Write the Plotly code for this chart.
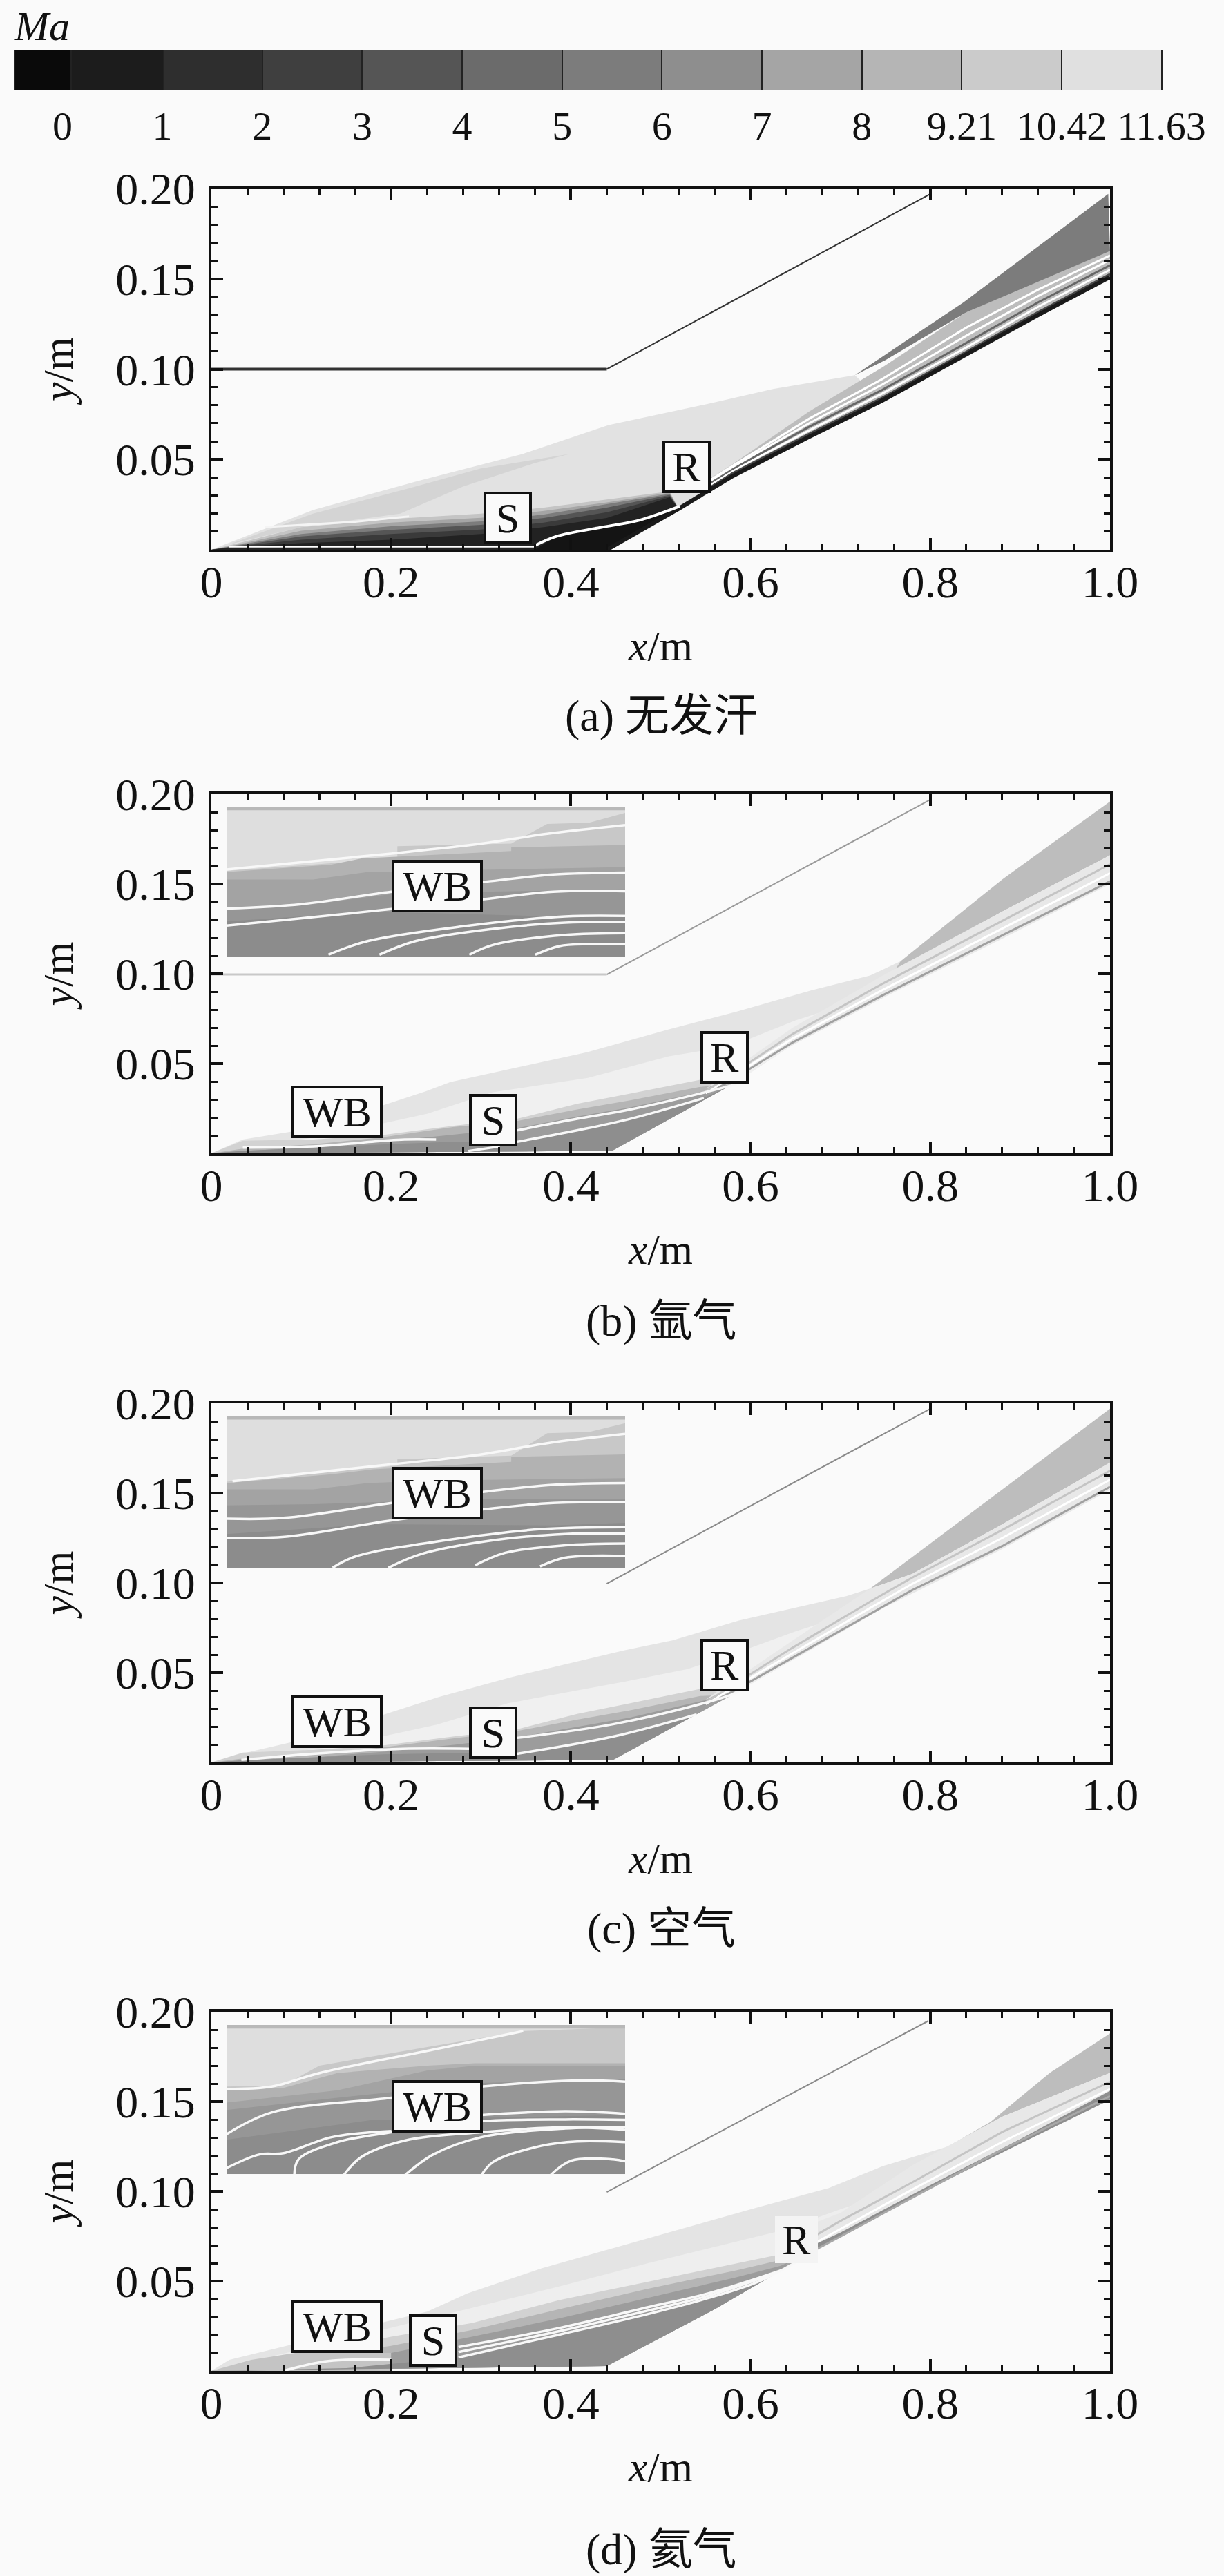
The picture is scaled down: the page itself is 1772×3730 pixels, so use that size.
import plotly.graph_objects as go

W = 1772
H = 3730
BG = "#fafafa"
SERIF = "Liberation Serif"
CJK = "Liberation Serif, Noto Sans CJK SC"

# colour bar
cbar_edges = [-0.487, 0.09, 1.01, 2, 3, 4, 5, 6, 7, 8, 9, 10, 11, 11.48]
cbar_colors = ["#0a0a0a", "#1c1c1c", "#2e2e2e", "#3f3f3f", "#555555", "#6b6b6b", "#7c7c7c",
               "#8e8e8e", "#a5a5a5", "#b5b5b5", "#cbcbcb", "#e0e0e0", "#fafafa"]
cbar_ticks = [0, 1, 2, 3, 4, 5, 6, 7, 8, 9, 10, 11]
cbar_labels = ["0", "1", "2", "3", "4", "5", "6", "7", "8", "9.21", "10.42", "11.63"]

x_ticks = [0, 0.2, 0.4, 0.6, 0.8, 1.0]
x_labels = ["0", "0.2", "0.4", "0.6", "0.8", "1.0"]
y_ticks = [0.05, 0.10, 0.15, 0.20]
y_labels = ["0.05", "0.10", "0.15", "0.20"]

captions = ["(a) 无发汗", "(b) 氩气", "(c) 空气", "(d) 氦气"]
caption_py = [1037, 1912, 2792, 3691]
panel_top = [273, 1150, 2032, 2913]
panel_bottom = [796, 1670, 2552, 3433]

# panel a
a_wall_x = [0.44, 0.52, 0.579, 0.665, 0.7465, 0.84, 0.92, 1.0]
a_wall_y = [0, 0.0227, 0.0405, 0.0625, 0.0826, 0.108, 0.13, 0.151]
a_shock_x = [0, 0.113, 0.229, 0.346, 0.442, 0.552, 0.625, 0.716]
a_shock_y = [0, 0.022, 0.038, 0.053, 0.069, 0.0807, 0.089, 0.0967]
a_strip_x = [0.02, 0.113, 0.22, 0.3, 0.398, 0.36, 0.28, 0.21, 0.1, 0.02]
a_strip_y = [0.003, 0.02, 0.034, 0.045, 0.053, 0.048, 0.035, 0.02, 0.0125, 0.003]
a_grad_x = [0.03, 0.10, 0.20, 0.30, 0.37, 0.44, 0.51]
a_grad_1 = [0.0036, 0.0125, 0.017, 0.020, 0.0233, 0.0278, 0.0323]
a_grad_2 = [0.0030, 0.0105, 0.015, 0.0177, 0.0215, 0.0262, 0.0316]
a_grad_3 = [0.0026, 0.0087, 0.013, 0.0157, 0.0195, 0.0252, 0.031]
a_grad_4 = [0.0022, 0.0074, 0.011, 0.0138, 0.0176, 0.0233, 0.0304]
a_grad_5 = [0.0020, 0.0055, 0.0087, 0.0112, 0.015, 0.0207, 0.0297]
a_grad_6 = [0.0017, 0.0036, 0.0055, 0.0087, 0.0125, 0.0176, 0.0291]
a_black_x = [0.36, 0.384, 0.435, 0.476, 0.521, 0.44]
a_black_y = [0.0, 0.0074, 0.0125, 0.0163, 0.024, 0.0]
a_wedge_x = [0.716, 0.837, 0.998, 1.0, 0.84, 0.75, 0.716]
a_wedge_y = [0.0967, 0.137, 0.197, 0.1654, 0.1315, 0.105, 0.0967]
a_stripe_x = [0.55, 0.579, 0.665, 0.7465, 0.84, 0.92, 1.0]
a_stripe_top = [0.038, 0.047, 0.0765, 0.101, 0.1315, 0.149, 0.1654]
a_stripe_lines = [
    [0.0330, 0.0421, 0.0641, 0.0842, 0.1096, 0.1316, 0.1526],
    [0.0345, 0.0435, 0.0660, 0.0865, 0.1120, 0.1345, 0.1550],
    [0.0355, 0.0445, 0.0680, 0.0885, 0.1145, 0.1370, 0.1575],
    [0.0365, 0.0455, 0.0700, 0.0915, 0.1185, 0.1405, 0.1605],
    [0.0370, 0.0462, 0.0725, 0.0945, 0.1230, 0.1440, 0.1630],
]
a_stripe_colors = ["#444444", "#ffffff", "#666666", "#ffffff", "#ffffff"]
a_white_x = [0.36, 0.384, 0.435, 0.476, 0.521]
a_white_y = [0.0023, 0.0074, 0.0125, 0.0163, 0.024]
a_floor_x = [0.02, 0.36]
a_floor_y = [0.0016, 0.0016]
a_thin_x = [0.06, 0.16, 0.22]
a_thin_y = [0.0125, 0.0155, 0.0185]
a_top_wall_x = [0, 0.44, 0.80]
a_top_wall_y = [0.1, 0.1, 0.197]

# panel b
b_wall_x = [0.446, 0.58, 0.647, 0.747, 0.88, 1.0]
b_wall_y = [0.0014, 0.0385, 0.0604, 0.0865, 0.1195, 0.15]
b_shock_x = [0, 0.035, 0.113, 0.239, 0.266, 0.313, 0.419, 0.509, 0.56, 0.584, 0.667, 0.733, 0.767]
b_shock_y = [0, 0.0077, 0.014, 0.0346, 0.0397, 0.0449, 0.0564, 0.069, 0.0756, 0.0788, 0.0907, 0.099, 0.107]
b_inner_x = [0.13, 0.24, 0.313, 0.419, 0.509, 0.58, 0.65, 0.70]
b_inner_y = [0.0100, 0.022, 0.034, 0.042, 0.054, 0.060, 0.074, 0.082]
b_grad_x = [0.035, 0.113, 0.192, 0.27, 0.34, 0.407, 0.466, 0.544]
b_grad_1 = [0.007, 0.0077, 0.0103, 0.0154, 0.0192, 0.0276, 0.0333, 0.041]
b_grad_2 = [0.0026, 0.005, 0.009, 0.0147, 0.018, 0.0244, 0.0295, 0.037]
b_grad_3 = [0.0013, 0.0032, 0.0064, 0.0103, 0.014, 0.0205, 0.0256, 0.034]
b_low_x = [0.035, 0.113, 0.192, 0.27, 0.34, 0.407, 0.466, 0.548]
b_low_y = [0.0013, 0.0032, 0.005, 0.0064, 0.0064, 0.0128, 0.0192, 0.0308]
b_wedge_x = [0.767, 0.88, 1.0, 1.0, 0.88, 0.76]
b_wedge_y = [0.107, 0.1525, 0.196, 0.166, 0.1346, 0.1016]
b_stripe_x = [0.55, 0.647, 0.747, 0.88, 1.0]
b_stripe_top = [0.036, 0.0700, 0.0990, 0.1346, 0.166]
b_stripe_lines = [
    [0.0320, 0.0618, 0.0880, 0.1215, 0.1515],
    [0.0335, 0.0640, 0.0910, 0.1250, 0.1560],
    [0.0345, 0.0665, 0.0945, 0.1295, 0.1610],
]
b_flow_1_x = [0.34, 0.407, 0.466, 0.544, 0.584]
b_flow_1_y = [0.0128, 0.0192, 0.0244, 0.0333, 0.0385]
b_flow_2_x = [0.34, 0.407, 0.466, 0.548]
b_flow_2_y = [0.0064, 0.0128, 0.0192, 0.0308]
b_flow_3_x = [0.035, 0.113, 0.192, 0.215, 0.25]
b_flow_3_y = [0.0032, 0.0038, 0.007, 0.0077, 0.0077]
b_flow_4_x = [0.286, 0.321]
b_flow_4_y = [0.0013, 0.0038]
b_top_wall_x = [0, 0.44, 0.80]
b_top_wall_y = [0.0996, 0.0996, 0.197]

# panel c
c_wall_x = [0.447, 0.58, 0.647, 0.747, 0.88, 1.0]
c_wall_y = [0.0014, 0.0378, 0.057, 0.0859, 0.1188, 0.1518]
c_shock_x = [0, 0.0334, 0.113, 0.253, 0.333, 0.46, 0.513, 0.587, 0.707, 0.733]
c_shock_y = [0, 0.0048, 0.014, 0.0364, 0.0474, 0.0625, 0.068, 0.079, 0.0927, 0.0968]
c_inner_x = [0.14, 0.25, 0.33, 0.46, 0.53, 0.59, 0.65, 0.70]
c_inner_y = [0.009, 0.021, 0.033, 0.045, 0.052, 0.062, 0.073, 0.081]
c_grad_x = [0.035, 0.113, 0.192, 0.27, 0.34, 0.407, 0.466, 0.544]
c_grad_1 = [0.0055, 0.0070, 0.0095, 0.0145, 0.0185, 0.0270, 0.0330, 0.041]
c_grad_2 = [0.0022, 0.0045, 0.0085, 0.0135, 0.0175, 0.0238, 0.0290, 0.037]
c_grad_3 = [0.0012, 0.0028, 0.0060, 0.0098, 0.0140, 0.0200, 0.0250, 0.034]
c_low_x = [0.035, 0.113, 0.192, 0.27, 0.34, 0.447, 0.54]
c_low_y = [0.0012, 0.0028, 0.0045, 0.0052, 0.0048, 0.0144, 0.0268]
c_wedge_x = [0.733, 0.88, 1.0, 1.0, 0.88, 0.78, 0.733]
c_wedge_y = [0.0968, 0.1518, 0.197, 0.167, 0.1326, 0.105, 0.0968]
c_stripe_x = [0.55, 0.647, 0.733, 0.78, 0.88, 1.0]
c_stripe_top = [0.035, 0.0680, 0.0968, 0.105, 0.1326, 0.167]
c_stripe_lines = [
    [0.0310, 0.0585, 0.0830, 0.0960, 0.1205, 0.1535],
    [0.0325, 0.0610, 0.0860, 0.0995, 0.1250, 0.1575],
    [0.0335, 0.0640, 0.0895, 0.1030, 0.1295, 0.1625],
]
c_flow_1_x = [0.34, 0.447, 0.553, 0.587]
c_flow_1_y = [0.0137, 0.0213, 0.0337, 0.0392]
c_flow_2_x = [0.34, 0.447, 0.54]
c_flow_2_y = [0.0048, 0.0144, 0.0268]
c_flow_3_x = [0.0334, 0.113, 0.213, 0.287]
c_flow_3_y = [0.0014, 0.0048, 0.0076, 0.0076]
c_top_wall_x = [0.44, 0.80]
c_top_wall_y = [0.0996, 0.197]

# panel d
d_wall_x = [0.44, 0.56, 0.673, 0.8, 0.9, 1.0]
d_wall_y = [0.0027, 0.0343, 0.0673, 0.1016, 0.1265, 0.151]
d_shock_x = [0, 0.02, 0.24, 0.285, 0.368, 0.486, 0.603, 0.687, 0.747, 0.82]
d_shock_y = [0, 0.0062, 0.033, 0.0432, 0.0572, 0.0738, 0.0904, 0.1018, 0.114, 0.125]
d_inner_x = [0.2, 0.29, 0.387, 0.486, 0.584, 0.633, 0.70, 0.76]
d_inner_y = [0.024, 0.035, 0.047, 0.060, 0.072, 0.078, 0.090, 0.100]
d_grad_x = [0.2, 0.29, 0.387, 0.486, 0.584, 0.633]
d_grad_1 = [0.0190, 0.0266, 0.0394, 0.0496, 0.0598, 0.0649]
d_grad_2 = [0.0139, 0.0228, 0.0343, 0.0458, 0.056, 0.0617]
d_grad_3 = [0.0100, 0.019, 0.0292, 0.0407, 0.0521, 0.0585]
d_head_x = [0.0444, 0.0934, 0.2]
d_head_y = [0.0062, 0.010, 0.010]
d_low_x = [0.0, 0.15, 0.275, 0.388, 0.486, 0.554, 0.608, 0.652]
d_low_y = [0.0, 0.0015, 0.0075, 0.0203, 0.0317, 0.0407, 0.0496, 0.061]
d_wedge_x = [0.82, 0.867, 0.933, 1.0, 1.0, 0.88, 0.82]
d_wedge_y = [0.125, 0.1387, 0.166, 0.188, 0.166, 0.1415, 0.125]
d_stripe_x = [0.64, 0.70, 0.78, 0.88, 1.0]
d_stripe_top = [0.0765, 0.0880, 0.1145, 0.1415, 0.166]
d_stripe_lines = [
    [0.0590, 0.0748, 0.0965, 0.1232, 0.1530],
    [0.0625, 0.0790, 0.1010, 0.1275, 0.1570],
    [0.0660, 0.0835, 0.1050, 0.1330, 0.1610],
]
d_dark_x = [0.652, 0.70, 0.80, 0.90, 1.0, 1.0, 0.90, 0.80, 0.673]
d_dark_y = [0.066, 0.077, 0.1035, 0.1290, 0.156, 0.151, 0.1265, 0.1016, 0.0673]
d_flow_1_x = [0.275, 0.388, 0.486, 0.554, 0.608, 0.652]
d_flow_1_y = [0.0075, 0.0203, 0.0317, 0.0407, 0.0496, 0.061]
d_flow_2_x = [0.275, 0.388, 0.486, 0.554, 0.634]
d_flow_2_y = [0.0133, 0.0240, 0.0355, 0.0433, 0.0560]
d_flow_3_x = [0.275, 0.388, 0.486, 0.554, 0.620]
d_flow_3_y = [0.0105, 0.0222, 0.0336, 0.0420, 0.0530]
d_flow_4_x = [0.08, 0.13, 0.2]
d_flow_4_y = [0.0, 0.0055, 0.0062]
d_top_wall_x = [0.44, 0.798]
d_top_wall_y = [0.0996, 0.195]

# insets: positions are read off the picture, the zoomed view has no axis of its own
inset_left = 328
inset_right = 905
inset_top = [1168, 2050, 2932]
inset_bottom = [1386, 2270, 3150]

i_band_colors = ["#c8c8c8", "#b2b2b2", "#a3a3a3", "#969696", "#8c8c8c"]

ib_band_1_x = [55, 340, 340, 530, 590, 660, 720]
ib_band_1_y = [395, 345, 295, 285, 205, 200, 160]
ib_band_2_x = [55, 230, 280, 530, 530, 720]
ib_band_2_y = [400, 370, 345, 315, 300, 290]
ib_band_3_x = [55, 200, 290, 400, 720]
ib_band_3_y = [430, 430, 400, 395, 380]
ib_band_4_x = [55, 200, 330, 480, 720]
ib_band_4_y = [550, 530, 490, 480, 470]
ib_band_5_x = [55, 300, 600, 720]
ib_band_5_y = [600, 560, 580, 570]
ib_lines_x = [[55, 330, 480, 590, 720], [55, 180, 330, 485, 600, 720], [55, 170, 330, 485, 600, 720],
              [225, 290, 450, 620, 720], [310, 370, 500, 620, 720], [460, 500, 620, 720], [570, 610, 660, 720]]
ib_lines_y = [[390, 325, 285, 245, 210], [548, 530, 480, 440, 410, 402], [617, 590, 550, 510, 480, 478],
              [735, 680, 620, 580, 578], [735, 680, 630, 605, 603], [735, 695, 655, 648], [735, 700, 692, 692]]

ic_band_1_x = [55, 340, 340, 530, 590, 660, 720]
ic_band_1_y = [400, 335, 310, 295, 205, 200, 165]
ic_band_2_x = [55, 230, 300, 530, 530, 720]
ic_band_2_y = [405, 370, 350, 320, 300, 290]
ic_band_3_x = [55, 200, 290, 400, 720]
ic_band_3_y = [430, 430, 405, 395, 385]
ic_band_4_x = [55, 200, 330, 480, 720]
ic_band_4_y = [495, 490, 480, 470, 470]
ic_band_5_x = [55, 300, 600, 720]
ic_band_5_y = [610, 570, 575, 565]
ic_lines_x = [[65, 330, 480, 590, 720], [55, 150, 330, 485, 600, 720], [55, 155, 330, 485, 600, 720],
              [232, 270, 420, 580, 720], [325, 380, 500, 620, 720], [470, 520, 620, 720], [578, 620, 720]]
ic_lines_y = [[398, 330, 290, 245, 208], [548, 545, 485, 440, 412, 405], [625, 620, 555, 510, 485, 482],
              [745, 700, 635, 590, 582], [745, 690, 635, 610, 608], [735, 685, 655, 648], [740, 705, 698]]

id_band_1_x = [55, 150, 210, 400, 550, 720]
id_band_1_y = [385, 380, 300, 220, 160, 145]
id_band_2_x = [55, 150, 240, 390, 470, 720]
id_band_2_y = [400, 390, 330, 300, 290, 290]
id_band_3_x = [55, 240, 390, 470, 720]
id_band_3_y = [450, 400, 320, 300, 300]
id_band_4_x = [55, 240, 480, 720]
id_band_4_y = [480, 430, 370, 355]
id_band_5_x = [55, 300, 720]
id_band_5_y = [600, 520, 500]
id_lines_x = [[55, 130, 210, 400, 550], [55, 130, 330, 480, 640, 720], [55, 110, 150, 230, 330],
              [168, 175, 240, 330, 480, 620, 720], [250, 280, 350, 480, 620, 720], [352, 400, 480, 620, 720],
              [480, 500, 580, 640, 720], [595, 630, 700, 720], [480, 620, 720], [55, 720]]
id_lines_y = [[395, 385, 330, 235, 160], [578, 490, 430, 385, 360, 365], [715, 660, 655, 590, 565],
              [745, 680, 610, 570, 525, 518, 520], [745, 670, 605, 570, 550, 560], [745, 660, 590, 555, 550],
              [745, 690, 625, 607, 610], [745, 685, 680, 688], [500, 485, 495], [744, 744]]

# box labels: x, y in metres
a_box_x = [0.3295, 0.529]
a_box_y = [0.0176, 0.0459]
a_box_text = ["S", "R"]
b_box_x = [0.140, 0.3133, 0.571, 0.2514]
b_box_y = [0.0229, 0.0184, 0.0534, 0.149]
c_box_x = [0.140, 0.3133, 0.571, 0.2514]
c_box_y = [0.0228, 0.0166, 0.0543, 0.150]
d_box_x = [0.140, 0.2467, 0.2514]
d_box_y = [0.0247, 0.0169, 0.1473]
wide_text = ["WB", "S", "R", "WB"]
d_box_text = ["WB", "S", "WB"]
d_r_x = 0.651
d_r_y = 0.0732

fig = go.Figure()


def band(xs, ys, color, ax):
    fig.add_trace(go.Scatter(x=xs, y=ys, mode="lines", fill="toself", fillcolor=color,
                             line=dict(width=0, color=color), hoverinfo="skip", showlegend=False,
                             xaxis="x" + ax, yaxis="y" + ax))


def line(xs, ys, color, width, ax, shape="linear"):
    fig.add_trace(go.Scatter(x=xs, y=ys, mode="lines", line=dict(color=color, width=width, shape=shape),
                             hoverinfo="skip", showlegend=False, xaxis="x" + ax, yaxis="y" + ax))


def wall_part(wall_x, wall_y, limit):
    # walk back down the wall to the nose, used to close a band
    xs = [x for x in wall_x if x <= limit][::-1]
    ys = [y for x, y in zip(wall_x, wall_y) if x <= limit][::-1]
    return xs + [0], ys + [0]


def closed(top_x, top_y, wall_x, wall_y, limit):
    xs, ys = wall_part(wall_x, wall_y, limit)
    return top_x + xs, top_y + ys


# colour bar
cbar_mid = [(a + b) / 2 for a, b in zip(cbar_edges[:-1], cbar_edges[1:])]
cbar_width = [b - a for a, b in zip(cbar_edges[:-1], cbar_edges[1:])]
fig.add_trace(go.Bar(x=cbar_mid, y=[1] * len(cbar_mid), width=cbar_width,
                     marker=dict(color=cbar_colors, line=dict(color="#222222", width=2)),
                     hoverinfo="skip", showlegend=False, xaxis="x5", yaxis="y5"))

# panel a
xs, ys = closed(a_shock_x, a_shock_y, a_wall_x, a_wall_y, 0.75)
band(xs, ys, "#e2e2e2", "")
band(a_strip_x, a_strip_y, "#d4d4d4", "")
for level, color in zip([a_grad_1, a_grad_2, a_grad_3, a_grad_4, a_grad_5, a_grad_6],
                        ["#c4c4c4", "#a5a5a5", "#7c7c7c", "#555555", "#3a3a3a", "#222222"]):
    xs, ys = closed(a_grad_x, level, a_wall_x, a_wall_y, 0.53)
    band(xs, ys, color, "")
band(a_black_x, a_black_y, "#141414", "")
xs = a_stripe_x + a_wall_x[::-1][:6]
ys = a_stripe_top + a_wall_y[::-1][:6]
band(xs, ys, "#bdbdbd", "")
band(a_wedge_x, a_wedge_y, "#7c7c7c", "")
for vals, color in zip(a_stripe_lines, a_stripe_colors):
    line(a_stripe_x, vals, color, 3, "")
line(a_wall_x, a_wall_y, "#1a1a1a", 6, "")
line(a_white_x, a_white_y, "#ffffff", 4, "", "spline")
line(a_floor_x, a_floor_y, "#ffffff", 2, "")
line(a_thin_x, a_thin_y, "#f4f4f4", 3, "")
line(a_top_wall_x[:2], a_top_wall_y[:2], "#333333", 4, "")
line(a_top_wall_x[1:], a_top_wall_y[1:], "#333333", 2, "")


def light_panel(ax, wall_x, wall_y, shock_x, shock_y, inner_x, inner_y, grad_x, grads,
                low_x, low_y, wedge_x, wedge_y, stripe_x, stripe_top, stripe_lines, limit):
    xs, ys = closed(shock_x, shock_y, wall_x, wall_y, 0.75)
    band(xs, ys, "#e4e4e4", ax)
    xs, ys = closed(inner_x, inner_y, wall_x, wall_y, 0.7)
    band(xs, ys, "#f0f0f0", ax)
    for level, color in zip(grads, ["#d2d2d2", "#b5b5b5", "#9c9c9c"]):
        xs, ys = closed(grad_x, level, wall_x, wall_y, limit)
        band(xs, ys, color, ax)
    xs, ys = closed(low_x, low_y, wall_x, wall_y, limit)
    band(xs, ys, "#8e8e8e", ax)
    band(wedge_x, wedge_y, "#bdbdbd", ax)
    band(stripe_x + [wall_x[-1]] + wall_x[::-1][1:4],
         stripe_top + [wall_y[-1]] + wall_y[::-1][1:4], "#e8e8e8", ax)
    for vals, color in zip(stripe_lines, ["#a0a0a0", "#ffffff", "#c4c4c4"]):
        line(stripe_x, vals, color, 3, ax)


light_panel("2", b_wall_x, b_wall_y, b_shock_x, b_shock_y, b_inner_x, b_inner_y, b_grad_x,
            [b_grad_1, b_grad_2, b_grad_3], b_low_x, b_low_y, b_wedge_x, b_wedge_y,
            b_stripe_x, b_stripe_top, b_stripe_lines, 0.6)
for fx, fy in [(b_flow_1_x, b_flow_1_y), (b_flow_2_x, b_flow_2_y), (b_flow_3_x, b_flow_3_y), (b_flow_4_x, b_flow_4_y)]:
    line(fx, fy, "#f8f8f8", 3.5, "2", "spline")
line(b_top_wall_x[:2], b_top_wall_y[:2], "#c8c8c8", 3, "2")
line(b_top_wall_x[1:], b_top_wall_y[1:], "#9a9a9a", 2, "2")

light_panel("3", c_wall_x, c_wall_y, c_shock_x, c_shock_y, c_inner_x, c_inner_y, c_grad_x,
            [c_grad_1, c_grad_2, c_grad_3], c_low_x, c_low_y, c_wedge_x, c_wedge_y,
            c_stripe_x, c_stripe_top, c_stripe_lines, 0.6)
for fx, fy in [(c_flow_1_x, c_flow_1_y), (c_flow_2_x, c_flow_2_y), (c_flow_3_x, c_flow_3_y)]:
    line(fx, fy, "#f8f8f8", 3.5, "3", "spline")
line(c_top_wall_x, c_top_wall_y, "#8a8a8a", 2, "3")

xs, ys = closed(d_shock_x, d_shock_y, d_wall_x, d_wall_y, 0.85)
band(xs, ys, "#e4e4e4", "4")
xs, ys = closed(d_inner_x, d_inner_y, d_wall_x, d_wall_y, 0.8)
band(xs, ys, "#eeeeee", "4")
xs, ys = closed(d_grad_x, d_grad_1, d_wall_x, d_wall_y, 0.68)
band(xs, ys, "#d2d2d2", "4")
xs, ys = closed(d_grad_x, d_grad_2, d_wall_x, d_wall_y, 0.68)
band(xs, ys, "#b5b5b5", "4")
xs, ys = closed(d_grad_x, d_grad_3, d_wall_x, d_wall_y, 0.68)
band(xs, ys, "#9c9c9c", "4")
band(d_head_x + [0.2, 0.0], d_head_y + [0.0, 0.0], "#c4c4c4", "4")
xs, ys = closed(d_low_x, d_low_y, d_wall_x, d_wall_y, 0.68)
band(xs, ys, "#8e8e8e", "4")
band(d_wedge_x, d_wedge_y, "#bdbdbd", "4")
band(d_stripe_x + [1.0, 0.9, 0.8, 0.673], d_stripe_top + [0.151, 0.1265, 0.1016, 0.0673], "#e8e8e8", "4")
band(d_dark_x, d_dark_y, "#8e8e8e", "4")
for vals, color in zip(d_stripe_lines, ["#a8a8a8", "#ffffff", "#c4c4c4"]):
    line(d_stripe_x, vals, color, 3, "4")
for fx, fy in [(d_flow_1_x, d_flow_1_y), (d_flow_2_x, d_flow_2_y), (d_flow_3_x, d_flow_3_y), (d_flow_4_x, d_flow_4_y)]:
    line(fx, fy, "#f8f8f8", 3.5, "4", "spline")
line(d_top_wall_x, d_top_wall_y, "#8a8a8a", 2, "4")

# insets
inset_sets = [
    ("6", [(ib_band_1_x, ib_band_1_y), (ib_band_2_x, ib_band_2_y), (ib_band_3_x, ib_band_3_y),
           (ib_band_4_x, ib_band_4_y), (ib_band_5_x, ib_band_5_y)], ib_lines_x, ib_lines_y),
    ("7", [(ic_band_1_x, ic_band_1_y), (ic_band_2_x, ic_band_2_y), (ic_band_3_x, ic_band_3_y),
           (ic_band_4_x, ic_band_4_y), (ic_band_5_x, ic_band_5_y)], ic_lines_x, ic_lines_y),
    ("8", [(id_band_1_x, id_band_1_y), (id_band_2_x, id_band_2_y), (id_band_3_x, id_band_3_y),
           (id_band_4_x, id_band_4_y), (id_band_5_x, id_band_5_y)], id_lines_x, id_lines_y),
]
for ax, bands, lines_x, lines_y in inset_sets:
    band([55, 720, 720, 55], [135, 135, 760, 760], "#dedede", ax)
    for (bx, by), color in zip(bands, i_band_colors):
        band(bx + [720, 55], by + [760, 760], color, ax)
    band([55, 720, 720, 55], [135, 135, 150, 150], "#b8b8b8", ax)
    for lx, ly in zip(lines_x, lines_y):
        line(lx, ly, "#f8f8f8", 3.5, ax, "spline")

layout = dict(width=W, height=H, margin=dict(l=0, r=0, t=0, b=0), paper_bgcolor=BG, plot_bgcolor=BG,
              showlegend=False, bargap=0, font=dict(family=SERIF, color="#111111"))

annotations = []
for i, name in enumerate(["", "2", "3", "4"]):
    x_dom = [306 / W, 1607 / W]
    y_dom = [1 - panel_bottom[i] / H, 1 - panel_top[i] / H]
    x_minor = dict(ticks="inside", ticklen=9, tickwidth=3, tickcolor="#111111", tick0=0, dtick=0.04)
    y_minor = dict(ticks="inside", ticklen=9, tickwidth=3, tickcolor="#111111", tick0=0, dtick=0.01)
    layout["xaxis" + name] = dict(domain=x_dom, range=[0, 1], anchor="y" + name, tickvals=x_ticks, ticktext=x_labels,
                                  ticks="inside", ticklen=17, tickwidth=4, tickcolor="#111111", mirror="allticks",
                                  showline=True, linewidth=4, linecolor="#111111", showgrid=False, zeroline=False,
                                  automargin=False,
                                  ticklabelstandoff=-14, tickfont=dict(size=66, family=SERIF),
                                  minor=x_minor,
                                  title=dict(text="<i>x</i>/m", font=dict(size=62, family=SERIF), standoff=35))
    layout["yaxis" + name] = dict(domain=y_dom, range=[0, 0.2], anchor="x" + name, tickvals=y_ticks, ticktext=y_labels,
                                  ticks="inside", ticklen=17, tickwidth=4, tickcolor="#111111", mirror="allticks",
                                  showline=True, linewidth=4, linecolor="#111111", showgrid=False, zeroline=False,
                                  automargin=False,
                                  ticklabelstandoff=6, tickfont=dict(size=66, family=SERIF),
                                  minor=y_minor,
                                  title=dict(text="<i>y</i>/m", font=dict(size=62, family=SERIF), standoff=43))
    annotations.append(dict(text=captions[i], xref="paper", yref="paper", x=958 / W, y=1 - caption_py[i] / H,
                            xanchor="center", yanchor="middle", showarrow=False, font=dict(size=64, family=CJK)))

layout["xaxis5"] = dict(domain=[20 / W, 1751 / W], range=[cbar_edges[0], cbar_edges[-1]], anchor="y5",
                        tickvals=cbar_ticks, ticktext=cbar_labels, ticks="", showgrid=False, zeroline=False,
                        showline=False, automargin=False, ticklabelstandoff=12, tickfont=dict(size=58, family=SERIF))
layout["yaxis5"] = dict(domain=[1 - 131 / H, 1 - 72 / H], range=[0, 1], anchor="x5", visible=False)
annotations.append(dict(text="<i>Ma</i>", xref="paper", yref="paper", x=20 / W, y=1 - 38 / H, xanchor="left",
                        yanchor="middle", showarrow=False, xshift=-2, font=dict(size=60, family=SERIF)))

for i, name in enumerate(["6", "7", "8"]):
    layout["xaxis" + name] = dict(domain=[inset_left / W, inset_right / W], range=[55, 720], anchor="y" + name,
                                  visible=False)
    layout["yaxis" + name] = dict(domain=[1 - inset_bottom[i] / H, 1 - inset_top[i] / H], range=[745, 135],
                                  anchor="x" + name, visible=False)


def box(x, y, text, ax, border=4, bg=BG):
    wide = text == "WB"
    annotations.append(dict(text=text, x=x, y=y, xref="x" + ax, yref="y" + ax, showarrow=False,
                            width=124 if wide else 62, height=68, bgcolor=bg, bordercolor="#111111",
                            borderwidth=border, borderpad=0, font=dict(size=62, family=SERIF)))


for bx, by, text in zip(a_box_x, a_box_y, a_box_text):
    box(bx, by, text, "")
for bx, by, text in zip(b_box_x, b_box_y, wide_text):
    box(bx, by, text, "2")
for bx, by, text in zip(c_box_x, c_box_y, wide_text):
    box(bx, by, text, "3")
for bx, by, text in zip(d_box_x, d_box_y, d_box_text):
    box(bx, by, text, "4")
box(d_r_x, d_r_y, "R", "4", border=0, bg="#f4f4f4")

layout["annotations"] = annotations
fig.update_layout(**layout)
fig.write_html("out.html", config={"displayModeBar": False},
               post_script="document.body.style.margin='0';document.body.style.background='#fafafa';")
